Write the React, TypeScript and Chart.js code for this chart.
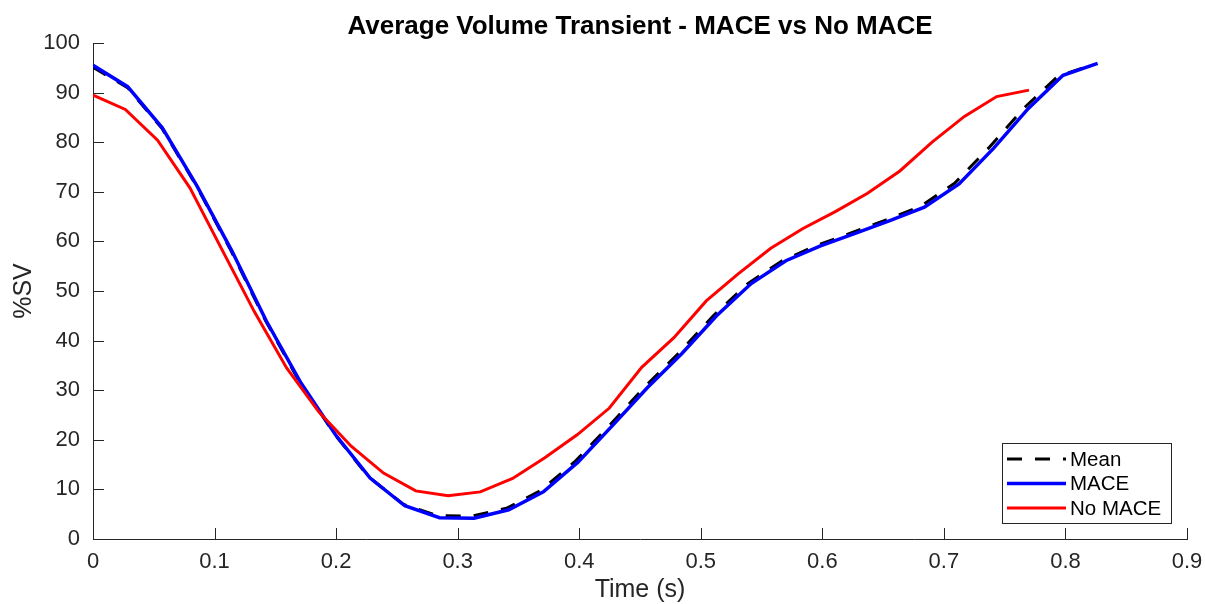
import React, { useEffect, useRef } from 'react';
import { Chart, registerables } from 'chart.js';

Chart.register(...registerables);

const TITLE = 'Average Volume Transient - MACE vs No MACE';
const X_LABEL = 'Time (s)';
const Y_LABEL = '%SV';
const SERIES_NAMES = ['Mean', 'MACE', 'No MACE'];

const xTickValues = [0, 0.1, 0.2, 0.3, 0.4, 0.5, 0.6, 0.7, 0.8, 0.9];
const yTickValues = [0, 10, 20, 30, 40, 50, 60, 70, 80, 90, 100];

const meanTime = [
  0, 0.0284, 0.0567, 0.0851, 0.1134, 0.1418, 0.1701, 0.1985, 0.2268, 0.2552,
  0.2835, 0.3119, 0.3402, 0.3686, 0.3969, 0.4253, 0.4536, 0.482, 0.5103, 0.5387,
  0.567, 0.5954, 0.6237, 0.6521, 0.6804, 0.7088, 0.7371, 0.7655, 0.7938, 0.8222,
];
const meanValues = [
  95.1, 91.0, 82.8, 71.2, 58.2, 44.1, 31.6, 21.2, 12.5, 7.0,
  4.7, 4.6, 6.2, 9.8, 15.7, 23.0, 30.6, 37.5, 45.0, 51.5,
  56.1, 59.2, 61.7, 64.3, 67.0, 71.7, 78.9, 86.8, 93.3, 95.6,
];

const maceTime = [
  0, 0.0285, 0.057, 0.0855, 0.114, 0.1425, 0.171, 0.1995, 0.228, 0.2565,
  0.285, 0.3135, 0.342, 0.3705, 0.399, 0.4275, 0.456, 0.4845, 0.513, 0.5415,
  0.57, 0.5985, 0.627, 0.6555, 0.684, 0.7125, 0.741, 0.7695, 0.798, 0.8265,
];
const maceValues = [
  95.5, 91.2, 82.9, 71.2, 58.2, 44.0, 31.5, 21.0, 12.3, 6.7,
  4.3, 4.2, 5.9, 9.5, 15.5, 22.9, 30.5, 37.4, 45.0, 51.5,
  56.1, 59.1, 61.6, 64.2, 66.9, 71.6, 78.8, 86.8, 93.5, 95.9,
];

const noMaceTime = [
  0, 0.0266, 0.0531, 0.0797, 0.1062, 0.1328, 0.1593, 0.1859, 0.2124, 0.239,
  0.2655, 0.2921, 0.3186, 0.3452, 0.3717, 0.3983, 0.4248, 0.4514, 0.4779, 0.5045,
  0.531, 0.5576, 0.5841, 0.6107, 0.6372, 0.6638, 0.6903, 0.7169, 0.7434, 0.77,
];
const noMaceValues = [
  89.5, 86.6, 80.4, 70.8, 58.3, 45.8, 34.5, 25.6, 18.7, 13.3,
  9.7, 8.7, 9.5, 12.2, 16.4, 21.0, 26.4, 34.6, 40.6, 48.0,
  53.5, 58.6, 62.6, 66.0, 69.7, 74.2, 80.0, 85.2, 89.2, 90.5,
];

const FONT = "'Liberation Sans', Arial, Helvetica, sans-serif";
const AXIS_COLOR = '#262626';

const toPoints = (xs: number[], ys: number[]) => xs.map((x, i) => ({ x, y: ys[i] }));

const inwardTicks = {
  id: 'inwardTicks',
  afterDraw(chart: any) {
    const { ctx, chartArea: ca, scales } = chart;
    const len = 11;
    ctx.save();
    ctx.strokeStyle = AXIS_COLOR;
    ctx.lineWidth = 1;
    ctx.beginPath();
    scales.x.ticks.forEach((t: any) => {
      const px = Math.round(scales.x.getPixelForValue(t.value)) + 0.5;
      ctx.moveTo(px, ca.bottom);
      ctx.lineTo(px, ca.bottom - len);
    });
    scales.y.ticks.forEach((t: any) => {
      const py = Math.round(scales.y.getPixelForValue(t.value)) + 0.5;
      ctx.moveTo(ca.left, py);
      ctx.lineTo(ca.left + len, py);
    });
    ctx.stroke();
    ctx.restore();
  },
};

const boxLegend = {
  id: 'boxLegend',
  afterDraw(chart: any) {
    const { ctx, chartArea: ca } = chart;
    const w = 169;
    const h = 80;
    const right = ca.right - 16;
    const bottom = ca.bottom - 16;
    const left = right - w;
    const top = bottom - h;
    ctx.save();
    ctx.fillStyle = '#ffffff';
    ctx.fillRect(left, top, w, h);
    ctx.strokeStyle = AXIS_COLOR;
    ctx.lineWidth = 1;
    ctx.strokeRect(Math.round(left) + 0.5, Math.round(top) + 0.5, w, h);
    const items = [chart.data.datasets[0], chart.data.datasets[1], chart.data.datasets[2]];
    items.forEach((ds: any, i: number) => {
      const y = top + 16 + i * 24.5;
      ctx.beginPath();
      ctx.strokeStyle = ds.borderColor;
      ctx.lineWidth = ds.borderWidth;
      ctx.setLineDash(ds.borderDash || []);
      ctx.moveTo(left + 5, y);
      ctx.lineTo(left + 64, y);
      ctx.stroke();
      ctx.setLineDash([]);
      ctx.fillStyle = '#000000';
      ctx.font = `20.5px ${FONT}`;
      ctx.textBaseline = 'middle';
      ctx.textAlign = 'left';
      ctx.fillText(ds.label, left + 68, y + 1);
    });
    ctx.restore();
  },
};

export default function App() {
  const canvasRef = useRef<HTMLCanvasElement | null>(null);

  useEffect(() => {
    if (!canvasRef.current) return;
    const chart = new Chart(canvasRef.current, {
      type: 'line',
      data: {
        datasets: [
          {
            label: SERIES_NAMES[0],
            data: toPoints(meanTime, meanValues),
            borderColor: '#000000',
            borderWidth: 3,
            borderDash: [15, 13],
            pointRadius: 0,
            tension: 0,
            fill: false,
            order: 3,
          },
          {
            label: SERIES_NAMES[1],
            data: toPoints(maceTime, maceValues),
            borderColor: '#0000ff',
            borderWidth: 3.5,
            pointRadius: 0,
            tension: 0,
            fill: false,
            order: 2,
          },
          {
            label: SERIES_NAMES[2],
            data: toPoints(noMaceTime, noMaceValues),
            borderColor: '#ff0000',
            borderWidth: 3,
            pointRadius: 0,
            tension: 0,
            fill: false,
            order: 1,
          },
        ],
      },
      options: {
        animation: false,
        responsive: false,
        maintainAspectRatio: false,
        layout: { padding: { left: 0, right: 18, top: 0, bottom: 0 } },
        plugins: {
          legend: { display: false },
          tooltip: { enabled: false },
          title: {
            display: true,
            fullSize: false,
            text: TITLE,
            color: '#000000',
            font: { family: FONT, size: 26, weight: 'bold' },
            padding: { top: 11, bottom: 0.8 },
          },
        },
        scales: {
          x: {
            type: 'linear',
            min: 0,
            max: 0.9,
            afterBuildTicks: (scale: any) => {
              scale.ticks = xTickValues.map((v) => ({ value: v }));
            },
            afterFit: (scale: any) => {
              scale.height = 65;
              scale.paddingLeft = 0;
              scale.paddingRight = 0;
            },
            ticks: {
              color: AXIS_COLOR,
              font: { family: FONT, size: 22 },
              padding: 10,
              maxRotation: 0,
              autoSkip: false,
              callback: (v: any) => String(v),
            },
            grid: { display: false, drawTicks: false },
            border: { display: true, color: AXIS_COLOR, width: 1 },
            title: {
              display: true,
              text: X_LABEL,
              color: AXIS_COLOR,
              font: { family: FONT, size: 25 },
              padding: { top: 0, bottom: -1 },
            },
          },
          y: {
            type: 'linear',
            min: 0,
            max: 100,
            afterBuildTicks: (scale: any) => {
              scale.ticks = yTickValues.map((v) => ({ value: v }));
            },
            afterFit: (scale: any) => {
              scale.width = 93;
              scale.paddingTop = 0;
              scale.paddingBottom = 0;
            },
            ticks: {
              color: AXIS_COLOR,
              font: { family: FONT, size: 22 },
              padding: 13,
              autoSkip: false,
              callback: (v: any) => String(v),
            },
            grid: { display: false, drawTicks: false },
            border: { display: true, color: AXIS_COLOR, width: 1 },
            title: {
              display: true,
              text: Y_LABEL,
              color: AXIS_COLOR,
              font: { family: FONT, size: 25 },
              padding: { top: 9, bottom: 0 },
            },
          },
        },
      },
      plugins: [inwardTicks, boxLegend],
    });
    return () => chart.destroy();
  }, []);

  return (
    <div style={{ position: 'fixed', left: 0, top: 0, width: 1205, height: 604, background: '#ffffff' }}>
      <canvas ref={canvasRef} width={1205} height={604} style={{ width: 1205, height: 604 }} />
    </div>
  );
}
